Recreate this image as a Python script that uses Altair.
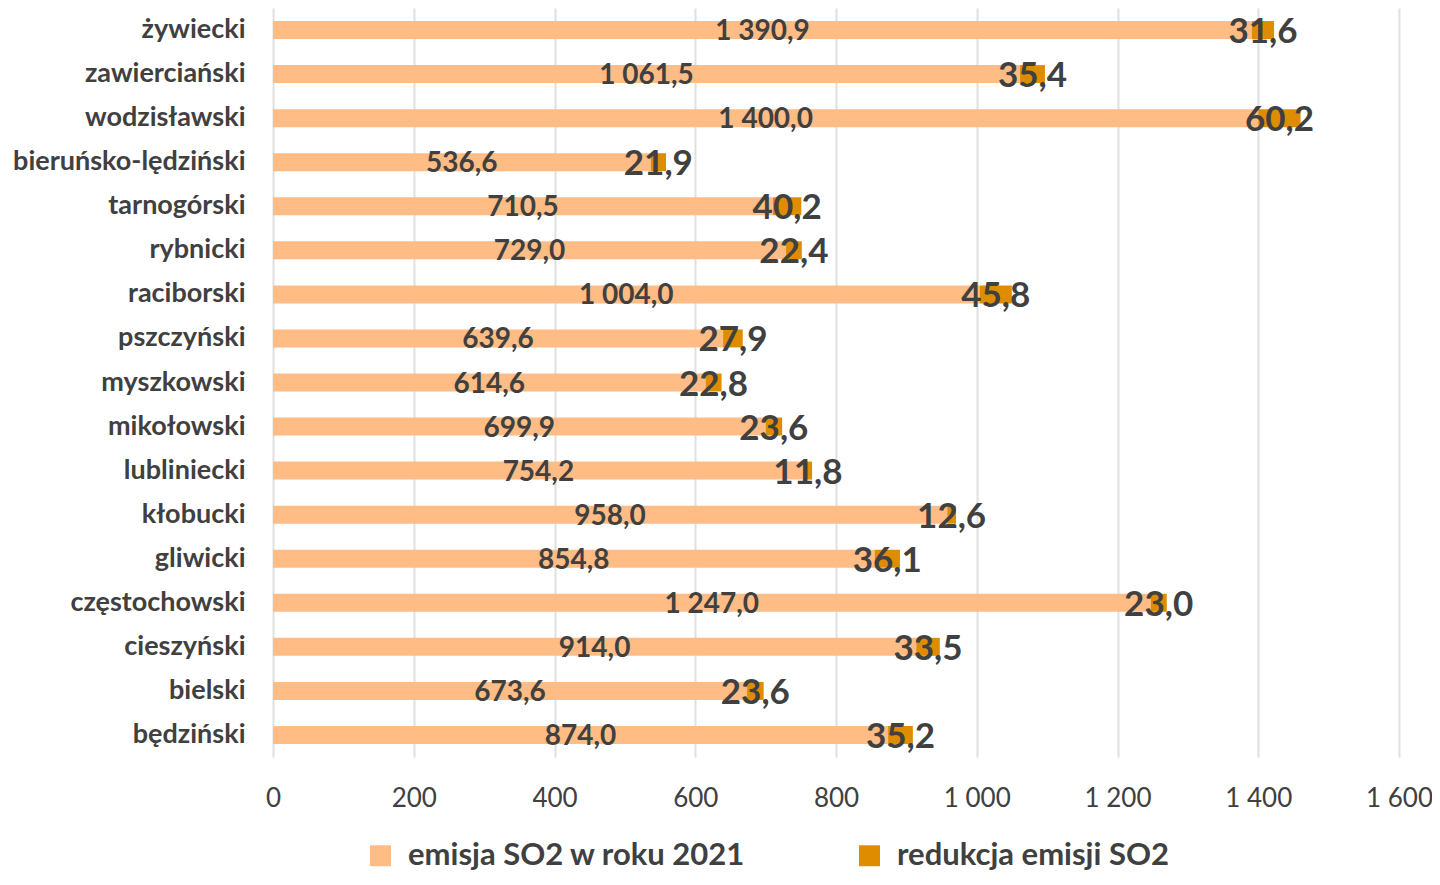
import altair as alt
import pandas as pd

categories = ["żywiecki", "zawierciański", "wodzisławski", "bieruńsko-lędziński",
              "tarnogórski", "rybnicki", "raciborski", "pszczyński", "myszkowski",
              "mikołowski", "lubliniecki", "kłobucki", "gliwicki", "częstochowski",
              "cieszyński", "bielski", "będziński"]
emisja = [1390.9, 1061.5, 1400.0, 536.6, 710.5, 729.0, 1004.0, 639.6, 614.6,
          699.9, 754.2, 958.0, 854.8, 1247.0, 914.0, 673.6, 874.0]
redukcja = [31.6, 35.4, 60.2, 21.9, 40.2, 22.4, 45.8, 27.9, 22.8,
            23.6, 11.8, 12.6, 36.1, 23.0, 33.5, 23.6, 35.2]
series = ["emisja SO2 w roku 2021", "redukcja emisji SO2"]
colors = ["#FFBC85", "#E08C00"]
x_ticks = [0, 200, 400, 600, 800, 1000, 1200, 1400, 1600]

FONT = "Lato"
TXT = "#404040"


def pl(v):
    s = f"{v:,.1f}"
    return s.replace(",", " ").replace(".", ",")


rows = []
for c, e, r in zip(categories, emisja, redukcja):
    rows.append({"kat": c, "seria": series[0], "start": 0.0, "end": e,
                 "mid": e / 2, "label": pl(e), "ord": 0})
    rows.append({"kat": c, "seria": series[1], "start": e, "end": e + r,
                 "mid": e + r / 2, "label": pl(r), "ord": 1})
df = pd.DataFrame(rows)

y_enc = alt.Y("kat:N", sort=categories, title=None,
              scale=alt.Scale(paddingInner=0.0, paddingOuter=0.0),
              axis=alt.Axis(labelFont=FONT, labelFontSize=27, labelFontWeight="bold",
                            labelColor=TXT, labelPadding=28, ticks=False, domain=False,
                            grid=False, labelLimit=400))
x_scale = alt.Scale(domain=[0, 1600], nice=False)

bars = alt.Chart(df).mark_bar(size=18).encode(
    y=y_enc,
    x=alt.X("start:Q", scale=x_scale, title=None,
            axis=alt.Axis(values=x_ticks, labelFont=FONT, labelFontSize=26,
                          labelColor=TXT, labelPadding=28, ticks=False, domain=False,
                          grid=True, gridColor="#E0E0E0", gridWidth=2,
                          labelFlush=False, labelOverlap=False, labelBound=False,
                          labelExpr="replace(format(datum.value, ',d'), ',', ' ')")),
    x2="end:Q",
    color=alt.Color("seria:N", scale=alt.Scale(domain=series, range=colors),
                    legend=alt.Legend(title=None, orient="none", direction="horizontal",
                                      legendX=92, legendY=832, symbolType="square",
                                      symbolSize=440, symbolStrokeWidth=0,
                                      labelFont=FONT, labelFontSize=31,
                                      labelFontWeight="bold", labelColor=TXT,
                                      labelOffset=12, columnPadding=108, padding=0,
                                      labelLimit=600)),
)

lab1 = alt.Chart(df).transform_filter(alt.datum.ord == 0).mark_text(
    font=FONT, fontSize=28, fontWeight="bold", color=TXT, baseline="middle", dy=2
).encode(y=alt.Y("kat:N", sort=categories), x=alt.X("mid:Q", scale=x_scale), text="label:N")

lab2 = alt.Chart(df).transform_filter(alt.datum.ord == 1).mark_text(
    font=FONT, fontSize=35, fontWeight="bold", color=TXT, baseline="middle", dy=2
).encode(y=alt.Y("kat:N", sort=categories), x=alt.X("mid:Q", scale=x_scale), text="label:N")

chart = alt.layer(bars, lab1, lab2).properties(
    width=1126, height=749,
    background="white",
    autosize=alt.AutoSizeParams(type="none"),
    padding={"left": 265, "top": 0, "right": 33, "bottom": 115},
).configure_view(stroke=None)

chart.save("out.html", embed_options={"renderer": "svg", "actions": False})
